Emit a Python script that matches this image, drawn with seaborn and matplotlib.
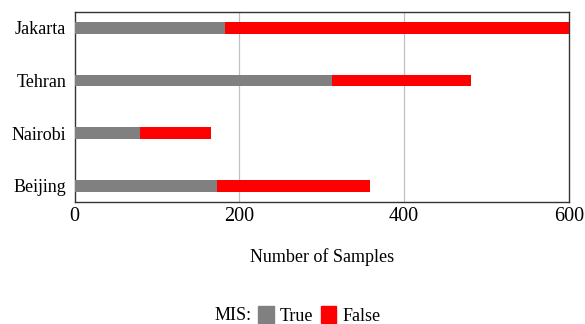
import pandas as pd
import matplotlib
matplotlib.use('Agg')
import matplotlib.pyplot as plt
import matplotlib.patches as mpatches
import seaborn as sns

cities = ['Jakarta', 'Tehran', 'Nairobi', 'Beijing']
mis_true = [183, 313, 79, 173]
mis_false = [417, 168, 87, 185]

GRAY = '#808080'
RED = '#ff0000'


def plot_mis_samples():
    df = pd.DataFrame({'city': cities, 'true': mis_true, 'false': mis_false})
    df['total'] = df['true'] + df['false']

    sns.set_style('white')
    plt.rcParams['font.family'] = ['Liberation Serif', 'DejaVu Serif']
    plt.rcParams['text.color'] = 'black'
    plt.rcParams['axes.labelcolor'] = 'black'
    plt.rcParams['xtick.color'] = 'black'
    plt.rcParams['ytick.color'] = 'black'

    fig = plt.figure(figsize=(5.85, 3.24), dpi=100)
    ax = fig.add_axes([0.1277, 0.3775, 0.8446, 0.5855])

    # stacked look: full total in red, then the True part drawn over it
    sns.barplot(data=df, x='total', y='city', color=RED, width=0.22,
                saturation=1, linewidth=0, ax=ax, zorder=3)
    sns.barplot(data=df, x='true', y='city', color=GRAY, width=0.22,
                saturation=1, linewidth=0, ax=ax, zorder=4)

    ax.set_xlim(0, 600)
    ax.set_ylim(3.3, -0.3)
    ax.set_xticks([0, 200, 400, 600])
    ax.tick_params(axis='x', labelsize=14.5, length=0, pad=4)
    ax.tick_params(axis='y', labelsize=13, length=0, pad=6)
    ax.set_ylabel('')
    ax.set_xlabel('Number of Samples', fontsize=13, labelpad=16)
    for x in [200, 400]:
        ax.axvline(x, color='#c0c0c0', lw=0.9, zorder=1)
    for s in ax.spines.values():
        s.set_color('#333333')
        s.set_linewidth(1.0)
        s.set_visible(True)

    fig.text(0.3675, 0.027, 'MIS:', fontsize=13, va='center')
    handles = [mpatches.Patch(color=GRAY, label='True'),
               mpatches.Patch(color=RED, label='False')]
    fig.legend(handles=handles, loc='center left', bbox_to_anchor=(0.4415, 0.027),
               ncol=2, frameon=False, fontsize=13, handlelength=0.85,
               handleheight=1.1, handletextpad=0.35, columnspacing=0.4,
               borderpad=0, borderaxespad=0)

    fig.savefig('out.png', dpi=100)


def main():
    plot_mis_samples()


if __name__ == "__main__":
    main()
